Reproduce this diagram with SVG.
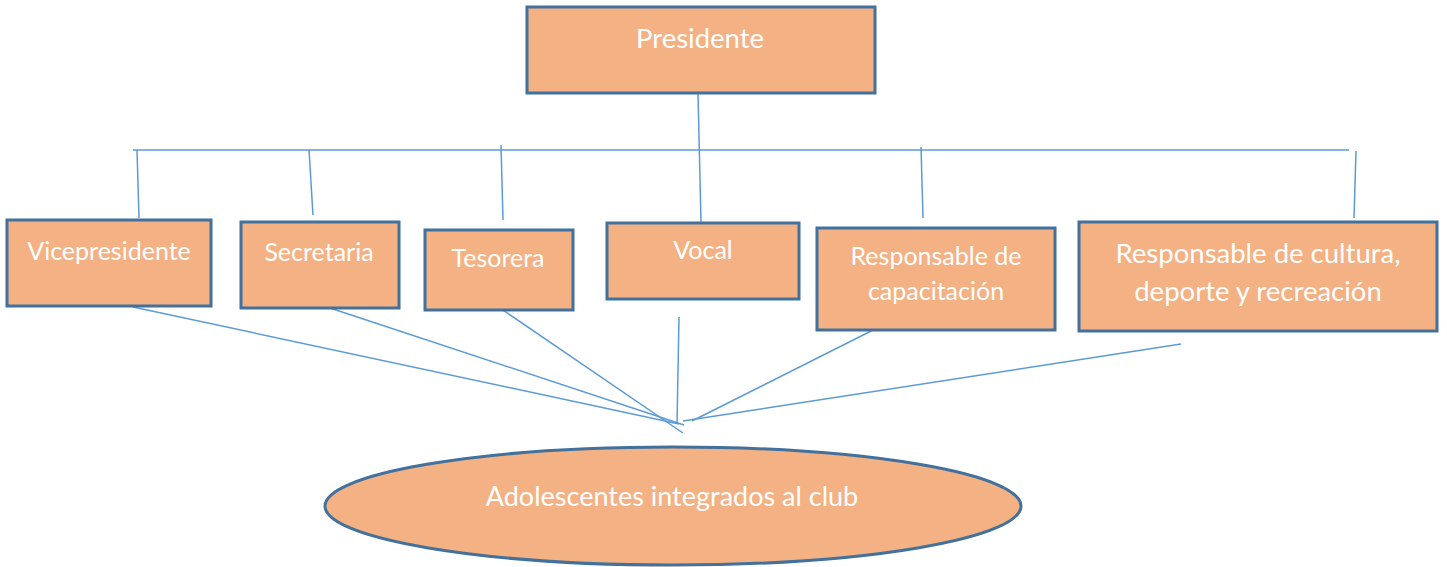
<svg xmlns="http://www.w3.org/2000/svg" width="1447" height="567" viewBox="0 0 1447 567">
<style>
.box{fill:#F4B183;stroke:#41719C;stroke-width:3}
.t{fill:#ffffff;font-family:Lato,"Open Sans","Liberation Sans",sans-serif;text-anchor:middle}
.c{stroke:#5B9BD5;stroke-width:1.5;fill:none}
</style>
<rect width="1447" height="567" fill="#ffffff"/>
<g id="connectors">
<line class="c" x1="133" y1="150" x2="1349" y2="150"/>
<line class="c" x1="698" y1="93" x2="701" y2="222"/>
<line class="c" x1="137" y1="150" x2="139" y2="218"/>
<line class="c" x1="309" y1="150" x2="313" y2="215"/>
<line class="c" x1="501" y1="145" x2="503" y2="220"/>
<line class="c" x1="921" y1="147" x2="923" y2="218"/>
<line class="c" x1="1356" y1="151" x2="1354" y2="218"/>
<line class="c" x1="133" y1="307" x2="679" y2="424"/>
<line class="c" x1="330" y1="308" x2="684" y2="425"/>
<line class="c" x1="497" y1="306" x2="683" y2="433"/>
<line class="c" x1="679" y1="317" x2="677" y2="424"/>
<line class="c" x1="891" y1="321" x2="692" y2="421"/>
<line class="c" x1="1181" y1="344" x2="683" y2="421"/>
</g>
<g id="presidente"><rect class="box" x="527" y="7" width="348" height="86"/><text class="t" x="700" y="48" font-size="27.5">Presidente</text></g>
<g id="vicepresidente"><rect class="box" x="7" y="220" width="204" height="86"/><text class="t" x="109" y="260" font-size="25">Vicepresidente</text></g>
<g id="secretaria"><rect class="box" x="241" y="222" width="158" height="86"/><text class="t" x="319" y="261" font-size="25">Secretaria</text></g>
<g id="tesorera"><rect class="box" x="425" y="230" width="148" height="80"/><text class="t" x="498" y="267" font-size="25">Tesorera</text></g>
<g id="vocal"><rect class="box" x="607" y="223" width="192" height="76"/><text class="t" x="703" y="259" font-size="25">Vocal</text></g>
<g id="capacitacion"><rect class="box" x="817" y="228" width="238" height="102"/><text class="t" x="936" y="265" font-size="25">Responsable de</text><text class="t" x="936" y="300" font-size="25">capacitación</text></g>
<g id="cultura"><rect class="box" x="1079" y="222" width="358" height="109"/><text class="t" x="1258" y="263" font-size="27.5">Responsable de cultura,</text><text class="t" x="1258" y="301" font-size="27.5">deporte y recreación</text></g>
<g id="adolescentes"><ellipse class="box" cx="673" cy="506" rx="348" ry="59"/><text class="t" x="672" y="506" font-size="27">Adolescentes integrados al club</text></g>
</svg>
